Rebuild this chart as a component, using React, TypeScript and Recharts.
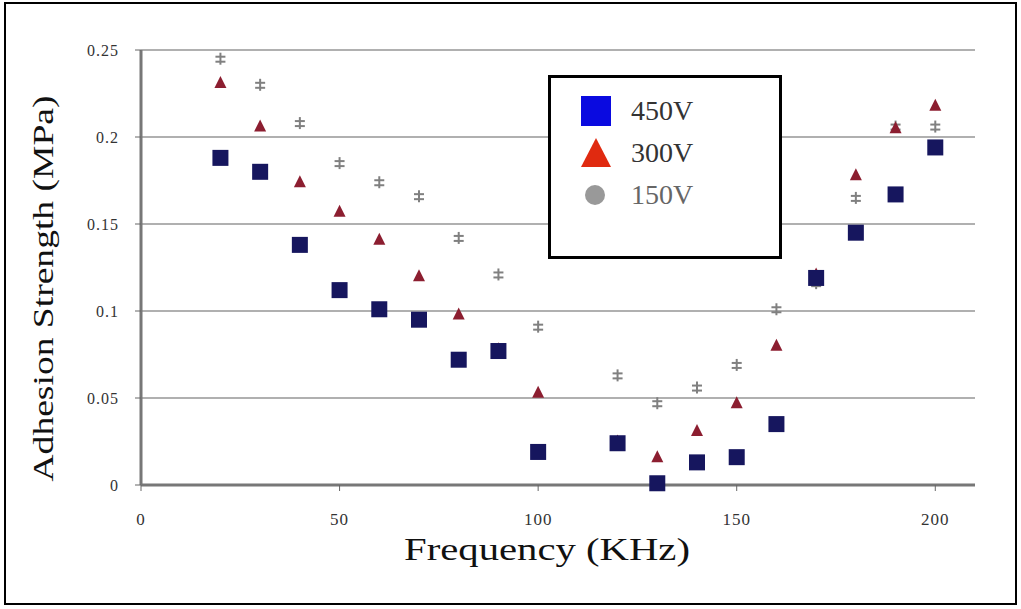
import React from 'react';
import {
  ScatterChart,
  Scatter,
  XAxis,
  YAxis,
  CartesianGrid,
  Label,
} from 'recharts';

const freq = [20, 30, 40, 50, 60, 70, 80, 90, 100, 120, 130, 140, 150, 160, 170, 180, 190, 200];

const v450 = [0.188, 0.18, 0.138, 0.112, 0.101, 0.095, 0.072, 0.077, 0.019, 0.024, 0.001, 0.013, 0.016, 0.035, 0.119, 0.145, 0.167, 0.194];
const v300 = [0.231, 0.206, 0.174, 0.157, 0.141, 0.12, 0.098, 0.078, 0.053, 0.025, 0.016, 0.031, 0.047, 0.08, 0.121, 0.178, 0.205, 0.218];
const v150 = [0.245, 0.23, 0.208, 0.185, 0.174, 0.166, 0.142, 0.121, 0.091, 0.063, 0.047, 0.056, 0.069, 0.101, 0.116, 0.165, 0.206, 0.206];

const xTicks = [0, 50, 100, 150, 200];
const yTicks = [0, 0.05, 0.1, 0.15, 0.2, 0.25];
const yTickLabels = ['0', '0.05', '0.1', '0.15', '0.2', '0.25'];

const toPoints = (vals: number[]) => freq.map((f, i) => ({ x: f, y: vals[i] }));

const FONT = '"Liberation Serif", "Times New Roman", serif';

function SquareDot({ cx, cy }: { cx?: number; cy?: number }) {
  if (cx == null || cy == null) return null;
  return <rect x={cx - 8} y={cy - 8} width={16} height={16} fill="#16165e" />;
}

function TriangleDot({ cx, cy }: { cx?: number; cy?: number }) {
  if (cx == null || cy == null) return null;
  return (
    <polygon
      points={`${cx},${cy - 7} ${cx - 6},${cy + 5} ${cx + 6},${cy + 5}`}
      fill="#8c1e30"
    />
  );
}

function StarDot({ cx, cy }: { cx?: number; cy?: number }) {
  if (cx == null || cy == null) return null;
  return (
    <g stroke="#808080" strokeWidth={2}>
      <line x1={cx} y1={cy - 6} x2={cx} y2={cy + 6} />
      <line x1={cx - 5} y1={cy - 2} x2={cx + 5} y2={cy - 2} />
      <line x1={cx - 5} y1={cy + 3} x2={cx + 5} y2={cy + 3} />
    </g>
  );
}

// axis titles in the original are stretched along their reading direction
function YTitle({ viewBox }: any) {
  if (!viewBox) return null;
  const cx = viewBox.x + 11;
  const cy = viewBox.y + viewBox.height / 2 + 21;
  return (
    <text
      x={cx}
      y={cy}
      transform={`rotate(-90, ${cx}, ${cy})`}
      textAnchor="middle"
      dominantBaseline="central"
      textLength={386}
      lengthAdjust="spacingAndGlyphs"
      style={{ fontFamily: FONT, fontSize: 30, fill: '#111' }}
    >
      Adhesion Strength (MPa)
    </text>
  );
}

function XTitle({ viewBox }: any) {
  if (!viewBox) return null;
  const cx = 547;
  const y = viewBox.y + viewBox.height - 15;
  return (
    <text
      x={cx}
      y={y}
      textAnchor="middle"
      textLength={286}
      lengthAdjust="spacingAndGlyphs"
      style={{ fontFamily: FONT, fontSize: 32, fill: '#111' }}
    >
      Frequency (KHz)
    </text>
  );
}

function LegendBox() {
  const rowStyle: React.CSSProperties = {
    display: 'flex',
    alignItems: 'center',
    height: 42,
    fontFamily: FONT,
    fontSize: 28,
    color: '#333',
  };
  return (
    <div
      style={{
        position: 'absolute',
        left: 548,
        top: 75,
        width: 228,
        height: 166,
        border: '3px solid #000',
        background: '#fff',
        paddingTop: 12,
        boxSizing: 'content-box',
      }}
    >
      <div style={rowStyle}>
        <svg width={80} height={36}>
          <rect x={30} y={3} width={30} height={30} fill="#0a0ae0" />
        </svg>
        <span>450V</span>
      </div>
      <div style={rowStyle}>
        <svg width={80} height={36}>
          <polygon points="45,3 30,32 60,32" fill="#e02a10" />
        </svg>
        <span>300V</span>
      </div>
      <div style={rowStyle}>
        <svg width={80} height={36}>
          <circle cx={44} cy={18} r={10} fill="#999" />
        </svg>
        <span style={{ color: '#666' }}>150V</span>
      </div>
    </div>
  );
}

export default function App() {
  return (
    <div
      style={{
        position: 'absolute',
        left: 0,
        top: 0,
        width: 1021,
        height: 609,
        background: '#fff',
      }}
    >
      <div
        style={{
          position: 'absolute',
          left: 4,
          top: 2,
          width: 1013,
          height: 603,
          border: '2px solid #000',
          boxSizing: 'border-box',
        }}
      />
      <div style={{ position: 'absolute', left: 0, top: 0 }}>
        <ScatterChart
          width={1021}
          height={609}
          margin={{ top: 50, right: 46, bottom: 34, left: 31 }}
        >
          <CartesianGrid
            horizontal
            vertical={false}
            stroke="#b0b0b0"
            strokeWidth={2}
          />
          <XAxis
            type="number"
            dataKey="x"
            domain={[0, 210]}
            ticks={xTicks}
            height={90}
            tickLine={{ stroke: '#666' }}
            tickSize={6}
            axisLine={{ stroke: '#777', strokeWidth: 3 }}
            tick={{ fontFamily: FONT, fontSize: 17, fill: '#333', dy: 20, letterSpacing: 1 }}
          >
            <Label content={<XTitle />} />
          </XAxis>
          <YAxis
            type="number"
            dataKey="y"
            domain={[0, 0.25]}
            ticks={yTicks}
            width={110}
            tickFormatter={(v: number) => yTickLabels[yTicks.indexOf(v)] ?? String(v)}
            tickLine={{ stroke: '#666' }}
            tickSize={6}
            axisLine={{ stroke: '#777', strokeWidth: 3 }}
            tick={{ fontFamily: FONT, fontSize: 16, fill: '#333', dx: -14, letterSpacing: 1 }}
          >
            <Label content={<YTitle />} />
          </YAxis>
          <Scatter
            name="150V"
            data={toPoints(v150)}
            shape={<StarDot />}
            isAnimationActive={false}
          />
          <Scatter
            name="300V"
            data={toPoints(v300)}
            shape={<TriangleDot />}
            isAnimationActive={false}
          />
          <Scatter
            name="450V"
            data={toPoints(v450)}
            shape={<SquareDot />}
            isAnimationActive={false}
          />
        </ScatterChart>
      </div>
      <LegendBox />
    </div>
  );
}
